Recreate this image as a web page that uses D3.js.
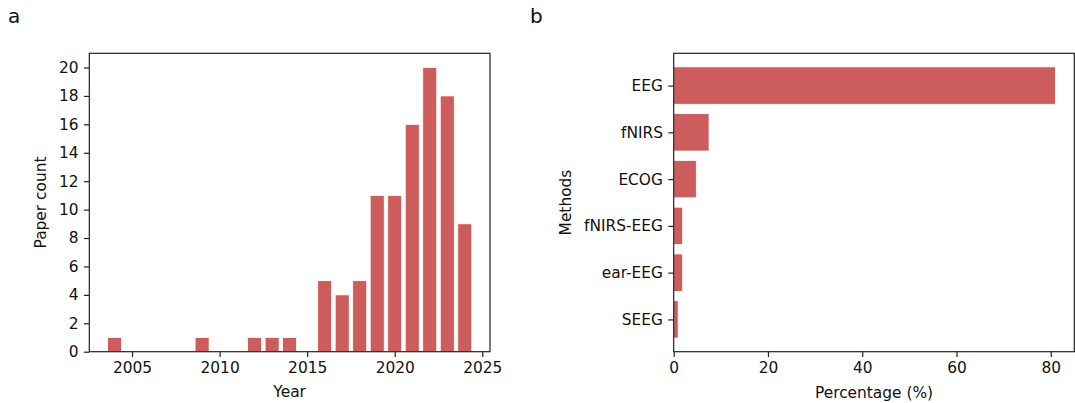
<!DOCTYPE html>
<html><head><meta charset="utf-8">
<script src="https://cdn.jsdelivr.net/npm/d3@7"></script>
<style>body{margin:0;background:#fff}svg{display:block}text{font-family:"DejaVu Sans",sans-serif;fill:#111}</style>
</head><body>
<svg id="c" width="1075" height="403"></svg>
<script>
const years = [2004, 2009, 2012, 2013, 2014, 2016, 2017, 2018, 2019, 2020, 2021, 2022, 2023, 2024];
const paperCounts = [1, 1, 1, 1, 1, 5, 4, 5, 11, 11, 16, 20, 18, 9];
const yearTicks = [2005, 2010, 2015, 2020, 2025];
const countTicks = [0, 2, 4, 6, 8, 10, 12, 14, 16, 18, 20];
const methods = ["EEG", "fNIRS", "ECOG", "fNIRS-EEG", "ear-EEG", "SEEG"];
const percentages = [81.0, 7.5, 4.8, 1.9, 1.9, 0.95];
const pctTicks = [0, 20, 40, 60, 80];

const svg = d3.select("#c");
const color = "#cd5c5c";
const fs = 15.4;
const tk = 5.4;

// Panel a
const A = {l: 89.3, r: 490, t: 53.3, b: 351.7};
const xa = d3.scaleLinear().domain([2002.56, 2025.44]).range([A.l, A.r]);
const ya = d3.scaleLinear().domain([0, 21]).range([A.b, A.t]);
const ga = svg.append("g");
ga.selectAll("rect").data(years).join("rect")
  .attr("x", (d) => xa(d - 0.4)).attr("width", (d) => xa(d + 0.4) - xa(d - 0.4))
  .attr("y", (d, i) => ya(paperCounts[i])).attr("height", (d, i) => ya(0) - ya(paperCounts[i]))
  .attr("fill", color).attr("stroke", "#fff").attr("stroke-width", 0.8);
ga.append("g").attr("transform", `translate(0,${A.b})`)
  .call(d3.axisBottom(xa).tickValues(yearTicks).tickFormat(d3.format("d")).tickSize(tk).tickPadding(tk));
ga.append("g").attr("transform", `translate(${A.l},0)`)
  .call(d3.axisLeft(ya).tickValues(countTicks).tickSize(tk).tickPadding(tk));
ga.append("rect").attr("x", A.l).attr("y", A.t).attr("width", A.r - A.l).attr("height", A.b - A.t)
  .attr("fill", "none").attr("stroke", "#222").attr("stroke-width", 1.2);
ga.append("text").attr("x", (A.l + A.r) / 2).attr("y", 397).attr("text-anchor", "middle").attr("font-size", fs).text("Year");
ga.append("text").attr("transform", `translate(45.5,${(A.t + A.b) / 2}) rotate(-90)`).attr("text-anchor", "middle").attr("font-size", fs).text("Paper count");
svg.append("text").attr("x", 8).attr("y", 23).attr("font-size", 20).text("a");

// Panel b
const B = {l: 673.7, r: 1074.3, t: 53.3, b: 351.7};
const xb = d3.scaleLinear().domain([0, 85.0]).range([B.l, B.r]);
const yb = d3.scaleLinear().domain([-0.69, methods.length - 1 + 0.69]).range([B.t, B.b]);
const gb = svg.append("g");
gb.selectAll("rect").data(methods).join("rect")
  .attr("x", xb(0)).attr("width", (d, i) => xb(percentages[i]) - xb(0))
  .attr("y", (d, i) => yb(i - 0.4)).attr("height", (d, i) => yb(i + 0.4) - yb(i - 0.4))
  .attr("fill", color).attr("stroke", "#fff").attr("stroke-width", 0.8);
gb.append("g").attr("transform", `translate(0,${B.b})`)
  .call(d3.axisBottom(xb).tickValues(pctTicks).tickSize(tk).tickPadding(tk));
const ybCat = d3.scaleOrdinal().domain(methods).range(methods.map((d, i) => yb(i)));
gb.append("g").attr("transform", `translate(${B.l},0)`)
  .call(d3.axisLeft(ybCat).tickSize(tk).tickPadding(tk));
gb.append("rect").attr("x", B.l).attr("y", B.t).attr("width", B.r - B.l).attr("height", B.b - B.t)
  .attr("fill", "none").attr("stroke", "#222").attr("stroke-width", 1.2);
gb.append("text").attr("x", (B.l + B.r) / 2).attr("y", 398).attr("text-anchor", "middle").attr("font-size", fs).text("Percentage (%)");
gb.append("text").attr("transform", `translate(571,${(B.t + B.b) / 2}) rotate(-90)`).attr("text-anchor", "middle").attr("font-size", fs).text("Methods");
svg.append("text").attr("x", 530).attr("y", 23).attr("font-size", 20).text("b");

svg.selectAll(".domain").remove();
svg.selectAll(".tick text").attr("font-size", fs).attr("font-family", "DejaVu Sans").attr("fill", "#111");
svg.selectAll(".tick line").attr("stroke", "#222").attr("stroke-width", 1.2);
</script>
</body></html>
